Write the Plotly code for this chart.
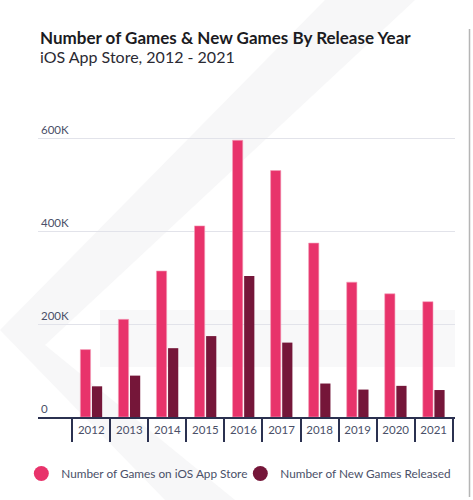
import plotly.graph_objects as go

years = ["2012", "2013", "2014", "2015", "2016", "2017", "2018", "2019", "2020", "2021"]
games_on_store = [145000, 210000, 314000, 411000, 595000, 530000, 374000, 290000, 265000, 248000]
new_games = [66000, 89000, 148000, 174000, 303000, 160000, 72000, 59000, 67000, 58000]
ytick_vals = [0, 200000, 400000, 600000]
ytick_text = ["0", "200K", "400K", "600K"]
series_names = ["Number of Games on iOS App Store", "Number of New Games Released"]

PINK = "#e8336b"
DARK = "#751639"
NAVY = "#2b3150"
TXT = "#4a5068"
FONT = "Lato"

fig = go.Figure()
fig.add_trace(go.Bar(x=years, y=games_on_store, name=series_names[0], marker_color=PINK,
                     marker_line=dict(color="#f3a0b8", width=0.6), showlegend=False))
fig.add_trace(go.Bar(x=years, y=new_games, name=series_names[1], marker_color=DARK,
                     marker_line_width=0, showlegend=False))
# legend entries with circle symbols (also carry the categories for the divider axis)
fig.add_trace(go.Scatter(x=years, y=[None] * len(years), mode="markers", name=series_names[0],
                         xaxis="x2", marker=dict(symbol="circle", size=15, color=PINK)))
fig.add_trace(go.Scatter(x=years, y=[None] * len(years), mode="markers", name=series_names[1],
                         xaxis="x2", marker=dict(symbol="circle", size=15, color=DARK)))

W, H = 473, 500
L, R, T, B = 38, 18, 120, 83
PW, PH = W - L - R, H - T - B
ZERO = H - B


def px(x):
    return (x - L) / PW


def py(y):
    return (ZERO - y) / PH


# faint background watermark
chev = [(325, 0), (415, 0), (45, 345), (235, 500), (165, 500), (0, 330)]
path = "M " + " L ".join("{:.4f} {:.4f}".format(px(a), py(b)) for a, b in chev) + " Z"
shapes = [
    dict(type="path", xref="paper", yref="paper", layer="below", line_width=0,
         fillcolor="#f7f7f8", path=path),
    dict(type="rect", xref="paper", yref="paper", layer="below", line_width=0, fillcolor="#f8f8f9",
         x0=px(100), x1=px(455), y0=py(367), y1=py(310)),
    dict(type="line", xref="paper", yref="paper", line=dict(color="#b5b5b5", width=1.5),
         x0=px(469.5), x1=px(469.5), y0=py(497), y1=py(29)),
]

YMAX = 600000 * PH / (ZERO - 138)

fig.update_layout(
    width=W, height=H,
    margin=dict(l=L, r=R, t=T, b=B, autoexpand=False),
    paper_bgcolor="white", plot_bgcolor="rgba(0,0,0,0)",
    font=dict(family=FONT, color=TXT, size=12),
    barmode="group", bargap=0.39, bargroupgap=0.12,
    shapes=shapes,
    showlegend=True,
    legend=dict(orientation="h", x=-0.04, xanchor="left", y=py(459), yanchor="top",
                font=dict(size=11.8, color=TXT), itemwidth=30, entrywidth=174,
                entrywidthmode="pixels", bgcolor="rgba(0,0,0,0)"),
    xaxis=dict(type="category", range=[-1.4, 9.56], showline=True, linecolor=NAVY, linewidth=2,
               ticks="outside", ticklen=1, tickcolor="rgba(0,0,0,0)",
               tickfont=dict(size=11.5, color=TXT), automargin=False,
               showgrid=False, zeroline=False, fixedrange=True),
    xaxis2=dict(type="category", matches="x", overlaying="x", side="bottom",
                ticks="outside", tickson="boundaries", ticklen=24, tickcolor=NAVY, tickwidth=1.5,
                showticklabels=False, showline=False, showgrid=False, zeroline=False,
                automargin=False, fixedrange=True),
    yaxis=dict(range=[0, YMAX], tickvals=ytick_vals, ticktext=ytick_text,
               ticklabelposition="inside top", tickfont=dict(size=11.5, color=TXT),
               showgrid=True, gridcolor="#e2e3ea", gridwidth=1, zeroline=False, showline=False,
               ticks="", fixedrange=True, automargin=False),
    annotations=[
        dict(text="<b>Number of Games &amp; New Games By Release Year</b>", xref="paper", yref="paper",
             x=0, y=py(38), xanchor="left", yanchor="middle", showarrow=False,
             font=dict(size=17, color="#1b1b22", family=FONT)),
        dict(text="iOS App Store, 2012 - 2021", xref="paper", yref="paper",
             x=0, y=py(57), xanchor="left", yanchor="middle", showarrow=False,
             font=dict(size=16, color="#2a2a33", family=FONT)),
    ],
)

fig.write_html("out.html")
